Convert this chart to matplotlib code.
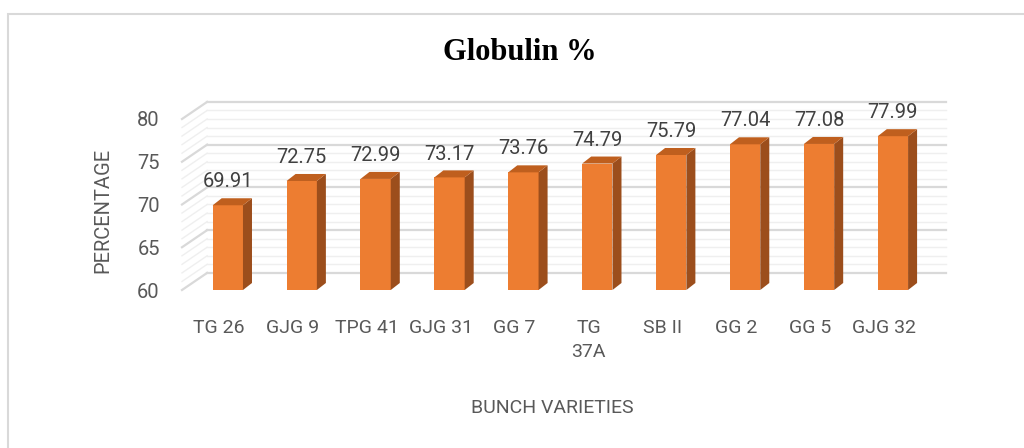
import matplotlib
matplotlib.use('Agg')
import matplotlib.pyplot as plt
from matplotlib.patches import Polygon, Rectangle
from matplotlib import font_manager

# data
varieties = ['TG 26', 'GJG 9', 'TPG 41', 'GJG 31', 'GG 7', 'TG\n37A', 'SB II', 'GG 2', 'GG 5', 'GJG 32']
globulin = [69.91, 72.75, 72.99, 73.17, 73.76, 74.79, 75.79, 77.04, 77.08, 77.99]
yticks = [60, 65, 70, 75, 80]

names = {f.name for f in font_manager.fontManager.ttflist}
lab_font = 'Liberation Sans Narrow' if 'Liberation Sans Narrow' in names else 'Roboto'
plt.rcParams['font.family'] = [lab_font, 'DejaVu Sans']

W, H = 1024, 448
fig = plt.figure(figsize=(W / 100, H / 100), dpi=100)
ax = fig.add_axes([182 / W, (H - 290) / H, (921 - 182) / W, 171 / H])
ax.set_xlim(-0.5, 9.5)
ax.set_ylim(60, 80)
for s in ax.spines.values():
    s.set_visible(False)
ax.patch.set_alpha(0)

# walls (pseudo 3d)
DX, DY = 0.34, 2.0
for v in range(60, 81):
    major = v % 5 == 0
    c = '#d9d9d9' if major else '#efefef'
    lw = 1.6 if major else 1.0
    ax.plot([-0.5, -0.5 + DX], [v, v + DY], color=c, lw=lw, clip_on=False, zorder=1)
    ax.plot([-0.5 + DX, 9.5 + DX], [v + DY, v + DY], color=c, lw=lw, clip_on=False, zorder=1)

# bars
off, bw = 0.12, 0.41
bdx, bdy = 0.122, 0.82
xs = [i + off for i in range(len(globulin))]
ax.bar(xs, [v - 60 for v in globulin], bottom=60, width=bw, color='#ed7d31', zorder=3)
for x, v in zip(xs, globulin):
    x0, x1 = x - bw / 2, x + bw / 2
    ax.add_patch(Polygon([(x1, 60), (x1, v), (x1 + bdx, v + bdy), (x1 + bdx, 60 + bdy)],
                         closed=True, fc='#9c4e1c', ec='none', zorder=3, clip_on=False))
    ax.add_patch(Polygon([(x0, v), (x1, v), (x1 + bdx, v + bdy), (x0 + bdx, v + bdy)],
                         closed=True, fc='#bf5f1e', ec='none', zorder=3, clip_on=False))
    ax.annotate('%.2f' % v, (x, v), xytext=(0, 10), textcoords='offset points',
                ha='center', va='bottom', fontsize=14.5, color='#404040')

ax.set_xticks(range(len(varieties)))
ax.set_xticklabels(varieties, fontsize=14, color='#595959', linespacing=1.4)
ax.set_yticks(yticks)
ax.set_yticklabels([str(t) for t in yticks], fontsize=14.5, color='#595959')
ax.tick_params(axis='x', length=0, pad=21)
ax.tick_params(axis='y', length=0, pad=16)

fig.text(520 / W, 1 - 52 / H, 'Globulin %', ha='center', va='center',
         fontsize=22, fontweight='bold', family='Liberation Serif', color='black')
fig.text(103 / W, 1 - 210 / H, 'PERCENTAGE', rotation=90, ha='center', va='center',
         fontsize=14.5, color='#595959')
fig.text(552 / W, 1 - 408 / H, 'BUNCH VARIETIES', ha='center', va='center',
         fontsize=14, color='#595959')

fig.add_artist(Rectangle((8 / W, -0.1), 2, (H - 14) / H + 0.1, transform=fig.transFigure,
                         fill=False, ec='#d9d9d9', lw=1.5))

fig.savefig('out.png', dpi=100)
